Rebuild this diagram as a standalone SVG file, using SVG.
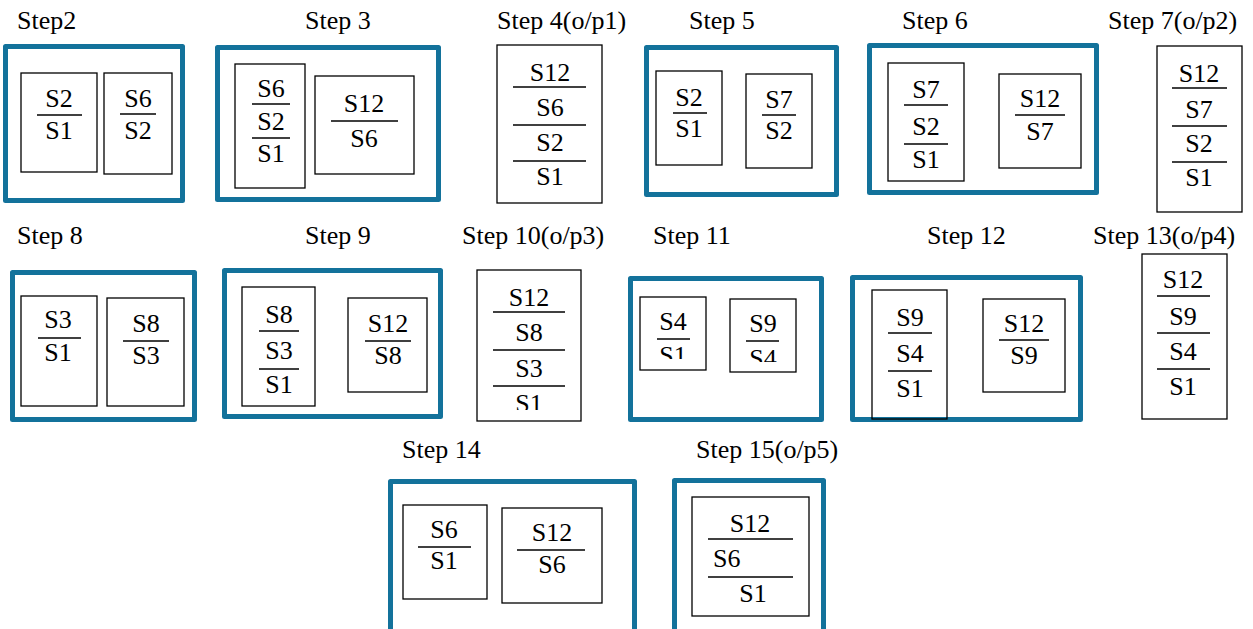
<svg xmlns="http://www.w3.org/2000/svg" width="1253" height="629" viewBox="0 0 1253 629" font-family="'Liberation Serif', 'DejaVu Serif', serif">
<style>
text{font-family:'Liberation Serif','DejaVu Serif',serif;font-size:26px;fill:#000}
.m{text-anchor:middle}
.outer{fill:none;stroke:#13729b;stroke-width:5;stroke-linejoin:round}
.box{fill:none;stroke:#000;stroke-width:1.3}
.bar{stroke:#000;stroke-width:1.6}
</style>
<defs>
<clipPath id="c10"><rect x="470" y="260" width="120" height="150"/></clipPath>
<clipPath id="c11a"><rect x="630" y="290" width="90" height="69"/></clipPath>
<clipPath id="c11b"><rect x="725" y="290" width="90" height="72"/></clipPath>
</defs>
<rect width="1253" height="629" fill="#fff"/>
<g id="connectors"/>

<g id="step2">
<text x="17" y="29">Step2</text>
<rect class="outer" x="5.5" y="46.5" width="177" height="154"/>
<rect class="box" x="21" y="73" width="76" height="99"/>
<text class="m" x="59" y="107">S2</text><line class="bar" x1="37" y1="115" x2="82" y2="115"/><text class="m" x="59" y="139">S1</text>
<rect class="box" x="104" y="73" width="68" height="101"/>
<text class="m" x="138" y="107">S6</text><line class="bar" x1="120" y1="114" x2="156" y2="114"/><text class="m" x="138" y="139">S2</text>
</g>

<g id="step3">
<text x="305" y="29">Step 3</text>
<rect class="outer" x="217.5" y="47.5" width="221" height="152"/>
<rect class="box" x="235" y="64" width="70" height="124"/>
<text class="m" x="271" y="97">S6</text><line class="bar" x1="252" y1="104" x2="290" y2="104"/>
<text class="m" x="271" y="130">S2</text><line class="bar" x1="252" y1="138" x2="290" y2="138"/>
<text class="m" x="271" y="162">S1</text>
<rect class="box" x="315" y="76" width="99" height="98"/>
<text class="m" x="364" y="112">S12</text><line class="bar" x1="331" y1="121" x2="398" y2="121"/><text class="m" x="364" y="147">S6</text>
</g>

<g id="step4">
<text x="497" y="29">Step 4(o/p1)</text>
<rect class="box" x="497" y="45" width="105" height="158"/>
<text class="m" x="550" y="81">S12</text><line class="bar" x1="513" y1="87" x2="586" y2="87"/>
<text class="m" x="550" y="116">S6</text><line class="bar" x1="513" y1="125" x2="586" y2="125"/>
<text class="m" x="550" y="151">S2</text><line class="bar" x1="513" y1="161" x2="586" y2="161"/>
<text class="m" x="550" y="185">S1</text>
</g>

<g id="step5">
<text x="689" y="29">Step 5</text>
<rect class="outer" x="646.5" y="47.5" width="190" height="147"/>
<rect class="box" x="656" y="71" width="66" height="94"/>
<text class="m" x="689" y="106">S2</text><line class="bar" x1="673" y1="113" x2="707" y2="113"/><text class="m" x="689" y="137">S1</text>
<rect class="box" x="746" y="74" width="66" height="94"/>
<text class="m" x="779" y="108">S7</text><line class="bar" x1="762" y1="115" x2="796" y2="115"/><text class="m" x="779" y="139">S2</text>
</g>

<g id="step6">
<text x="902" y="29">Step 6</text>
<rect class="outer" x="869.5" y="45.5" width="227" height="147"/>
<rect class="box" x="888" y="63" width="76" height="118"/>
<text class="m" x="926" y="98">S7</text><line class="bar" x1="904" y1="105" x2="948" y2="105"/>
<text class="m" x="926" y="135">S2</text><line class="bar" x1="904" y1="144" x2="948" y2="144"/>
<text class="m" x="926" y="168">S1</text>
<rect class="box" x="999" y="74" width="82" height="94"/>
<text class="m" x="1040" y="107">S12</text><line class="bar" x1="1015" y1="115" x2="1065" y2="115"/><text class="m" x="1040" y="140">S7</text>
</g>

<g id="step7">
<text x="1108" y="29">Step 7(o/p2)</text>
<rect class="box" x="1157" y="46" width="85" height="166"/>
<text class="m" x="1199" y="82">S12</text><line class="bar" x1="1172" y1="88" x2="1227" y2="88"/>
<text class="m" x="1199" y="118">S7</text><line class="bar" x1="1172" y1="126" x2="1227" y2="126"/>
<text class="m" x="1199" y="152">S2</text><line class="bar" x1="1172" y1="162" x2="1227" y2="162"/>
<text class="m" x="1199" y="186">S1</text>
</g>

<g id="step8">
<text x="17" y="244">Step 8</text>
<rect class="outer" x="12.5" y="272.5" width="182" height="147"/>
<rect class="box" x="21" y="296" width="76" height="110"/>
<text class="m" x="58" y="328">S3</text><line class="bar" x1="38" y1="338" x2="81" y2="338"/><text class="m" x="58" y="361">S1</text>
<rect class="box" x="107" y="298" width="77" height="108"/>
<text class="m" x="146" y="332">S8</text><line class="bar" x1="123" y1="341" x2="169" y2="341"/><text class="m" x="146" y="364">S3</text>
</g>

<g id="step9">
<text x="305" y="244">Step 9</text>
<rect class="outer" x="224.5" y="270.5" width="216" height="146"/>
<rect class="box" x="242" y="287" width="73" height="119"/>
<text class="m" x="279" y="323">S8</text><line class="bar" x1="259" y1="331" x2="299" y2="331"/>
<text class="m" x="279" y="359">S3</text><line class="bar" x1="259" y1="369" x2="299" y2="369"/>
<text class="m" x="279" y="393">S1</text>
<rect class="box" x="348" y="298" width="79" height="94"/>
<text class="m" x="388" y="332">S12</text><line class="bar" x1="365" y1="341" x2="411" y2="341"/><text class="m" x="388" y="364">S8</text>
</g>

<g id="step10">
<text x="462" y="244">Step 10(o/p3)</text>
<rect class="box" x="477" y="270" width="104" height="151"/>
<g clip-path="url(#c10)">
<text class="m" x="529" y="306">S12</text><line class="bar" x1="493" y1="312" x2="565" y2="312"/>
<text class="m" x="529" y="341">S8</text><line class="bar" x1="493" y1="350" x2="565" y2="350"/>
<text class="m" x="529" y="377">S3</text><line class="bar" x1="493" y1="386" x2="565" y2="386"/>
<text class="m" x="529" y="412">S1</text>
</g>
</g>

<g id="step11">
<text x="653" y="244">Step 11</text>
<rect class="outer" x="630.5" y="278.5" width="191" height="141"/>
<rect class="box" x="640" y="297" width="66" height="73"/>
<g clip-path="url(#c11a)"><text class="m" x="673" y="330">S4</text><text class="m" x="673" y="364">S1</text></g>
<line class="bar" x1="657" y1="339" x2="690" y2="339"/>
<rect class="box" x="730" y="299" width="66" height="73"/>
<g clip-path="url(#c11b)"><text class="m" x="763" y="332">S9</text><text class="m" x="763" y="367">S4</text></g>
<line class="bar" x1="746" y1="341" x2="779" y2="341"/>
</g>

<g id="step12">
<text x="927" y="244">Step 12</text>
<rect class="outer" x="852.5" y="277.5" width="228" height="142"/>
<rect class="box" x="872" y="290" width="75" height="129"/>
<text class="m" x="910" y="326">S9</text><line class="bar" x1="888" y1="333" x2="932" y2="333"/>
<text class="m" x="910" y="362">S4</text><line class="bar" x1="888" y1="371" x2="932" y2="371"/>
<text class="m" x="910" y="397">S1</text>
<rect class="box" x="983" y="299" width="82" height="93"/>
<text class="m" x="1024" y="332">S12</text><line class="bar" x1="999" y1="340" x2="1049" y2="340"/><text class="m" x="1024" y="364">S9</text>
</g>

<g id="step13">
<text x="1093" y="244">Step 13(o/p4)</text>
<rect class="box" x="1142" y="254" width="85" height="165"/>
<text class="m" x="1183" y="288">S12</text><line class="bar" x1="1157" y1="296" x2="1210" y2="296"/>
<text class="m" x="1183" y="325">S9</text><line class="bar" x1="1157" y1="333" x2="1210" y2="333"/>
<text class="m" x="1183" y="360">S4</text><line class="bar" x1="1157" y1="369" x2="1210" y2="369"/>
<text class="m" x="1183" y="395">S1</text>
</g>

<g id="step14">
<text x="402" y="458">Step 14</text>
<rect class="outer" x="390.5" y="481.5" width="244" height="160"/>
<rect class="box" x="403" y="505" width="84" height="94"/>
<text class="m" x="444" y="538">S6</text><line class="bar" x1="418" y1="547" x2="471" y2="547"/><text class="m" x="444" y="569">S1</text>
<rect class="box" x="502" y="508" width="100" height="95"/>
<text class="m" x="552" y="541">S12</text><line class="bar" x1="517" y1="550" x2="585" y2="550"/><text class="m" x="552" y="573">S6</text>
</g>

<g id="step15">
<text x="696" y="458">Step 15(o/p5)</text>
<rect class="outer" x="674.5" y="480.5" width="149" height="160"/>
<rect class="box" x="692" y="497" width="117" height="119"/>
<text class="m" x="750" y="532">S12</text><line class="bar" x1="708" y1="539" x2="793" y2="539"/>
<text x="713" y="567">S6</text><line class="bar" x1="708" y1="577" x2="793" y2="577"/>
<text class="m" x="753" y="602">S1</text>
</g>
</svg>
